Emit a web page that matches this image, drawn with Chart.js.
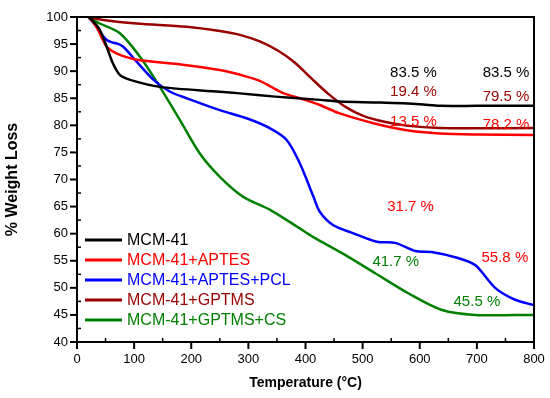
<!DOCTYPE html>
<html>
<head>
<meta charset="utf-8">
<script src="https://cdn.jsdelivr.net/npm/chart.js@4.4.1/dist/chart.umd.min.js"></script>
<style>
html,body{margin:0;padding:0;background:#fff;}
canvas{display:block;}
</style>
</head>
<body>
<canvas id="c" width="550" height="398"></canvas>
<script>
// ---- data ----
const seriesLabels = ["MCM-41", "MCM-41+APTES", "MCM-41+APTES+PCL", "MCM-41+GPTMS", "MCM-41+GPTMS+CS"];
const seriesColors = ["#000000", "#ff0000", "#0000ff", "#990000", "#008000"];

const mcmT = [20, 30, 40, 52, 63, 75, 93, 145, 250, 285, 347, 425, 460, 530, 600, 635, 700, 800];
const mcmW = [100, 99, 97.6, 94.5, 91.4, 89.3, 88.4, 87.1, 86.2, 85.9, 85.3, 84.7, 84.4, 84.2, 83.9, 83.6, 83.6, 83.6];

const aptesT = [20, 34, 52, 69, 93, 110, 192, 250, 297, 320, 340, 360, 390, 425, 460, 519, 577, 635, 700, 800];
const aptesW = [100, 98.2, 94.5, 93.3, 92.4, 92, 91.1, 90.2, 89, 88.2, 87.1, 86.0, 85, 83.75, 82.2, 80.4, 79.1, 78.5, 78.3, 78.2];

const pclT = [20, 30, 40, 52, 62, 70, 81, 104, 134, 163, 192, 250, 297, 338, 367, 390, 414, 425, 448, 483, 525, 557, 592, 621, 667, 697, 732, 767, 800];
const pclW = [100, 98.8, 97.3, 95.75, 95.3, 95.1, 94.5, 91.8, 88.4, 86.2, 85, 82.8, 81.3, 79.45, 77.3, 73, 66.8, 64.05, 61.6, 60.1, 58.5, 58.3, 56.8, 56.6, 55.5, 54.2, 50, 47.8, 46.8];

const gptmsT = [20, 46, 104, 192, 250, 285, 320, 350, 380, 410, 440, 470, 500, 540, 580, 635, 700, 800];
const gptmsW = [100, 99.45, 98.8, 98.2, 97.4, 96.7, 95.5, 93.9, 91.7, 88.7, 85.8, 83.4, 81.8, 80.6, 79.9, 79.5, 79.45, 79.5];

const csT = [20, 40, 75, 110, 145, 180, 215, 250, 291, 338, 385, 413, 464, 522, 580, 639, 697, 800];
const csW = [100, 98.8, 97, 92.7, 87.1, 81, 74.8, 70.5, 66.8, 64.4, 61.3, 59.4, 56.4, 52.7, 49, 45.9, 45, 45];

const xTicks = [0, 100, 200, 300, 400, 500, 600, 700, 800];
const yTicks = [40, 45, 50, 55, 60, 65, 70, 75, 80, 85, 90, 95, 100];

const noteTexts  = ["83.5 %", "83.5 %", "19.4 %", "79.5 %", "13.5 %", "78.2 %", "31.7 %", "55.8 %", "41.7 %", "45.5 %"];
const noteX      = [589, 751, 589, 751, 589, 751, 584, 749, 558, 700];
const noteY      = [89.75, 89.75, 86.15, 85.2, 80.65, 80.05, 64.9, 55.45, 54.8, 47.45];
const noteColors = ["#000000", "#000000", "#990000", "#990000", "#ff0000", "#ff0000", "#ff0000", "#ff0000", "#008000", "#008000"];

// ---- build datasets ----
const tempsList = [mcmT, aptesT, pclT, gptmsT, csT];
const weightList = [mcmW, aptesW, pclW, gptmsW, csW];
const datasets = seriesLabels.map((lab, i) => ({
  label: lab,
  data: tempsList[i].map((t, j) => ({x: t, y: weightList[i][j]})),
  borderColor: seriesColors[i],
  backgroundColor: seriesColors[i],
  borderWidth: 2.5,
  pointRadius: 0,
  tension: 0.3,
  fill: false
}));

const FONT = "'Liberation Sans', Arial, sans-serif";

const decor = {
  id: 'decor',
  afterDraw(chart) {
    const ctx = chart.ctx;
    const a = chart.chartArea;
    const xs = chart.scales.x, ys = chart.scales.y;
    ctx.save();
    // frame
    ctx.strokeStyle = '#000';
    ctx.lineWidth = 2;
    ctx.strokeRect(a.left, a.top, a.right - a.left, a.bottom - a.top);
    // major ticks (outward)
    ctx.lineWidth = 2;
    xTicks.forEach(v => {
      const px = xs.getPixelForValue(v);
      ctx.beginPath(); ctx.moveTo(px, a.bottom); ctx.lineTo(px, a.bottom + 7); ctx.stroke();
    });
    yTicks.forEach(v => {
      const py = ys.getPixelForValue(v);
      ctx.beginPath(); ctx.moveTo(a.left, py); ctx.lineTo(a.left - 7, py); ctx.stroke();
    });
    // minor ticks (inward)
    ctx.lineWidth = 1.5;
    for (let i = 0; i < xTicks.length - 1; i++) {
      const px = xs.getPixelForValue((xTicks[i] + xTicks[i + 1]) / 2);
      ctx.beginPath(); ctx.moveTo(px, a.bottom); ctx.lineTo(px, a.bottom - 4); ctx.stroke();
    }
    for (let i = 0; i < yTicks.length - 1; i++) {
      const py = ys.getPixelForValue((yTicks[i] + yTicks[i + 1]) / 2);
      ctx.beginPath(); ctx.moveTo(a.left, py); ctx.lineTo(a.left + 4, py); ctx.stroke();
    }
    // annotations
    ctx.font = "15px " + FONT;
    ctx.textAlign = 'center';
    ctx.textBaseline = 'middle';
    noteTexts.forEach((t, i) => {
      ctx.fillStyle = noteColors[i];
      ctx.fillText(t, xs.getPixelForValue(noteX[i]), ys.getPixelForValue(noteY[i]));
    });
    // legend inside plot
    ctx.font = "16px " + FONT;
    ctx.textAlign = 'left';
    chart.data.datasets.forEach((ds, i) => {
      const y = a.top + 223 + i * 20;
      ctx.strokeStyle = ds.borderColor;
      ctx.lineWidth = 3;
      ctx.beginPath(); ctx.moveTo(a.left + 8, y); ctx.lineTo(a.left + 45, y); ctx.stroke();
      ctx.fillStyle = ds.borderColor;
      ctx.fillText(ds.label, a.left + 50, y + 1);
    });
    ctx.restore();
  }
};

new Chart(document.getElementById('c'), {
  type: 'line',
  data: { datasets },
  options: {
    responsive: false,
    animation: false,
    layout: { padding: { top: 17, right: 16, left: 0, bottom: 0 } },
    plugins: { legend: { display: false }, tooltip: { enabled: false } },
    scales: {
      x: {
        type: 'linear', min: 0, max: 800,
        afterBuildTicks: s => { s.ticks = xTicks.map(v => ({value: v})); },
        afterFit: s => { s.height = 56; },
        grid: { drawOnChartArea: false, drawTicks: true, tickLength: 7, color: 'rgba(0,0,0,0)' },
        border: { display: true, color: '#000', width: 2 },
        ticks: { color: '#000', font: { family: FONT, size: 13 }, padding: 3, maxRotation: 0 },
        title: { display: true, text: 'Temperature (°C)', color: '#000', font: { family: FONT, size: 14, weight: 'bold' }, padding: { top: 0, bottom: 6 } }
      },
      y: {
        type: 'linear', min: 40, max: 100,
        afterBuildTicks: s => { s.ticks = yTicks.map(v => ({value: v})); },
        afterFit: s => { s.width = 77; },
        grid: { drawOnChartArea: false, drawTicks: true, tickLength: 7, color: 'rgba(0,0,0,0)' },
        border: { display: true, color: '#000', width: 2 },
        ticks: { color: '#000', font: { family: FONT, size: 13 }, padding: 2 },
        title: { display: true, text: '% Weight Loss', color: '#000', font: { family: FONT, size: 16, weight: 'bold' }, padding: { top: 3, bottom: 0 } }
      }
    }
  },
  plugins: [decor]
});
</script>
</body>
</html>
